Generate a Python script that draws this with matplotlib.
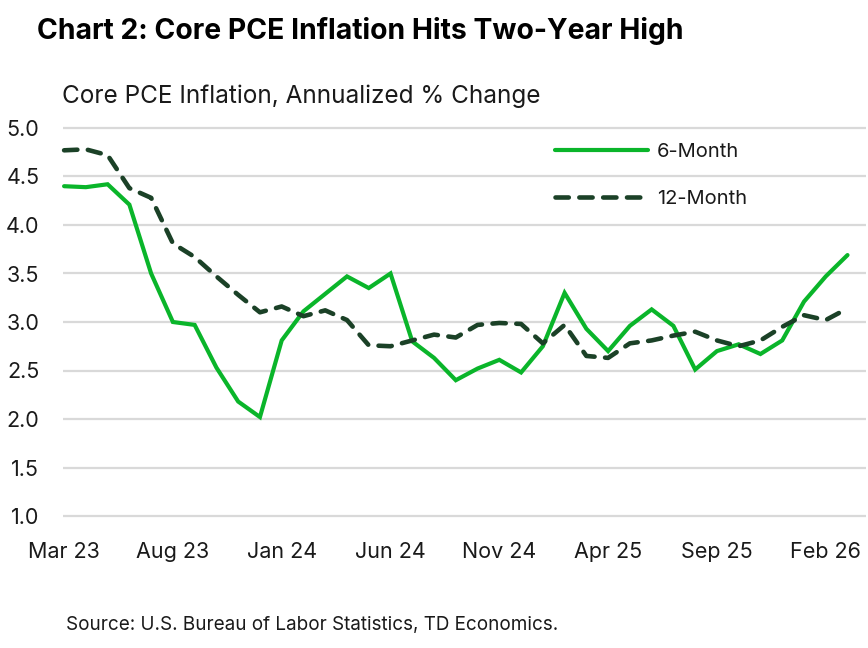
import matplotlib
matplotlib.use("Agg")
import matplotlib.pyplot as plt

# monthly, Mar 23 .. Mar 26
months = ["Mar 23", "Apr 23", "May 23", "Jun 23", "Jul 23", "Aug 23", "Sep 23", "Oct 23",
          "Nov 23", "Dec 23", "Jan 24", "Feb 24", "Mar 24", "Apr 24", "May 24", "Jun 24",
          "Jul 24", "Aug 24", "Sep 24", "Oct 24", "Nov 24", "Dec 24", "Jan 25", "Feb 25",
          "Mar 25", "Apr 25", "May 25", "Jun 25", "Jul 25", "Aug 25", "Sep 25", "Oct 25",
          "Nov 25", "Dec 25", "Jan 26", "Feb 26", "Mar 26"]

six_month = [4.40, 4.39, 4.42, 4.21, 3.50, 3.00, 2.97, 2.53, 2.18, 2.02,
             2.81, 3.11, 3.29, 3.47, 3.35, 3.50, 2.80, 2.63, 2.40, 2.52,
             2.61, 2.48, 2.75, 3.30, 2.93, 2.70, 2.96, 3.13, 2.96, 2.51,
             2.70, 2.77, 2.67, 2.81, 3.21, 3.47, 3.69]

twelve_month = [4.77, 4.78, 4.72, 4.38, 4.28, 3.81, 3.67, 3.47, 3.28, 3.10,
                3.16, 3.06, 3.12, 3.02, 2.76, 2.75, 2.81, 2.87, 2.84, 2.97,
                2.99, 2.98, 2.78, 2.97, 2.65, 2.63, 2.78, 2.81, 2.86, 2.90,
                2.81, 2.75, 2.81, 2.95, 3.07, 3.02, 3.14]

yticks = [1.0, 1.5, 2.0, 2.5, 3.0, 3.5, 4.0, 4.5, 5.0]

GREEN = "#0ab52a"
DARK = "#1b4127"
TXT = "#1a1a1a"

plt.rcParams["font.family"] = ["Inter", "DejaVu Sans"]

fig = plt.figure(figsize=(8.68, 6.48), dpi=100)
W, H = 868.0, 648.0
# axes placed in pixels: x from 63 to 866, y 1.0 -> 516px, 5.0 -> 128px
ax = fig.add_axes([63 / W, (H - 520.85) / H, (866 - 63) / W, 397.7 / H])

x = list(range(len(months)))
ax.plot(x, six_month, color=GREEN, lw=3.0, solid_capstyle="round",
        solid_joinstyle="miter", label="6-Month", clip_on=False, zorder=3)
ax.plot(x, twelve_month, color=DARK, lw=3.3, dashes=(2.9, 2.3),
        dash_capstyle="round", label="12-Month", clip_on=False, zorder=4)

ax.set_xlim(-0.05, 36.85)
ax.set_ylim(0.95, 5.05)
ax.set_yticks(yticks)
ax.set_yticklabels(["%.1f" % v for v in yticks])
ax.set_xticks(x[::5])
ax.set_xticklabels(months[::5])
ax.grid(axis="y", color="#d9d9d9", lw=1.6)
ax.set_axisbelow(True)
for s in ax.spines.values():
    s.set_visible(False)
ax.tick_params(axis="both", length=0, labelsize=15.5, colors=TXT)
ax.tick_params(axis="y", pad=17)
ax.tick_params(axis="x", pad=15)

leg = ax.legend(loc="upper left", bbox_to_anchor=(484 / 803, 1.0 - 12 / 397.7),
                frameon=False, fontsize=14.5, handlelength=4.6, handletextpad=0.45,
                labelspacing=1.4, borderaxespad=0)
for t in leg.get_texts():
    t.set_color(TXT)

fig.text(37 / W, 1 - 31 / H, "Chart 2: Core PCE Inflation Hits Two-Year High",
         fontsize=20.4, fontweight="bold", color="black", va="center", ha="left")
fig.text(62 / W, 1 - 96 / H, "Core PCE Inflation, Annualized % Change",
         fontsize=17.5, color=TXT, va="center", ha="left")
fig.text(66 / W, 1 - 625 / H, "Source: U.S. Bureau of Labor Statistics, TD Economics.",
         fontsize=13.6, color=TXT, va="center", ha="left")

fig.savefig("out.png", dpi=100)
